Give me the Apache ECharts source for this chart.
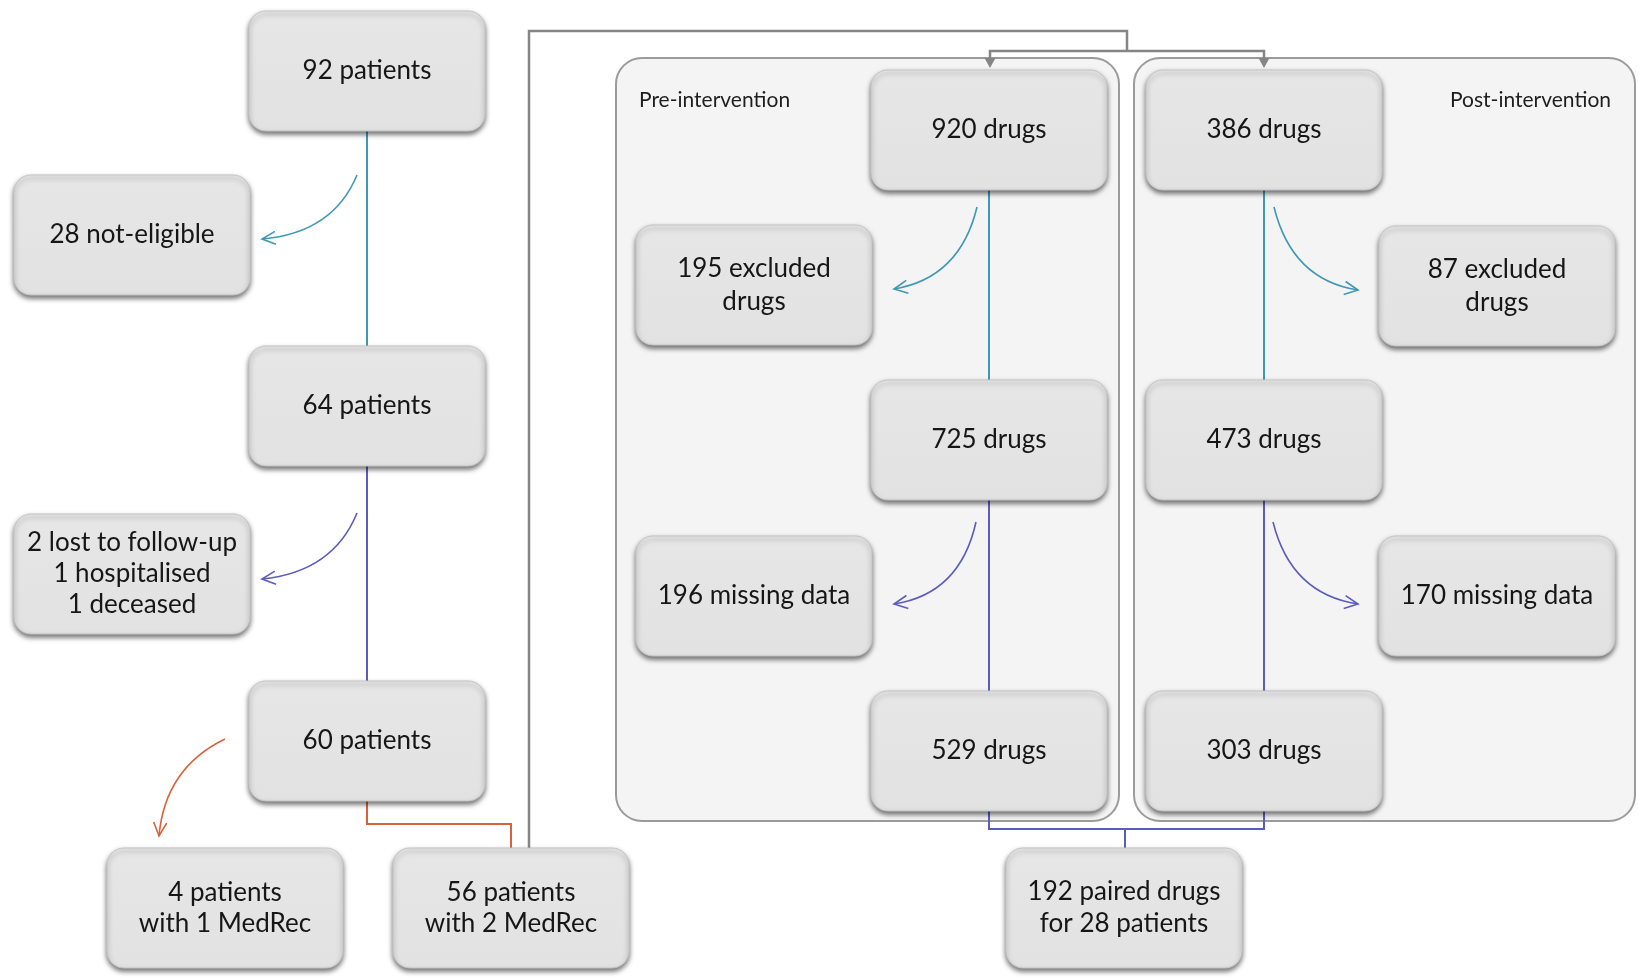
<!DOCTYPE html>
<html>
<head>
<meta charset="utf-8">
<script src="https://cdn.jsdelivr.net/npm/echarts@6/dist/echarts.min.js"></script>
<style>
  html, body { margin: 0; padding: 0; background: #ffffff; }
  #chart { width: 1638px; height: 980px; }
</style>
</head>
<body>
<div id="chart"></div>
<script>
// values
const patientSteps = [92, 64, 60];
const notEligible = 28;
const lostFollowUp = 2, hospitalised = 1, deceased = 1;
const medrecOne = 4, medrecTwo = 56;
const preDrugs = [920, 725, 529];
const preExcluded = 195, preMissing = 196;
const postDrugs = [386, 473, 303];
const postExcluded = 87, postMissing = 170;
const pairedDrugs = 192, pairedPatients = 28;
const phaseNames = ['Pre-intervention', 'Post-intervention'];

// box labels
const nodeLabels = [
  patientSteps[0] + ' patients',
  notEligible + ' not-eligible',
  patientSteps[1] + ' patients',
  lostFollowUp + ' lost to follow-up\n' + hospitalised + ' hospitalised\n' + deceased + ' deceased',
  patientSteps[2] + ' patients',
  medrecOne + ' patients\nwith 1 MedRec',
  medrecTwo + ' patients\nwith 2 MedRec',
  preDrugs[0] + ' drugs',
  preExcluded + ' excluded\ndrugs',
  preDrugs[1] + ' drugs',
  preMissing + ' missing data',
  preDrugs[2] + ' drugs',
  postDrugs[0] + ' drugs',
  postExcluded + ' excluded\ndrugs',
  postDrugs[1] + ' drugs',
  postMissing + ' missing data',
  postDrugs[2] + ' drugs',
  pairedDrugs + ' paired drugs\nfor ' + pairedPatients + ' patients'
];
// three-line box uses tighter spacing
const nodeLineHeights = [31, 31, 31, 31, 31, 31, 31, 31, 33, 31, 31, 31, 31, 33, 31, 31, 31, 32];

// layout (diagram units = pixels of the 1638x980 canvas)
const nodeCenters = [
  [367, 71], [132, 235], [367, 406], [132, 574], [367, 741],
  [225, 908], [511, 908],
  [989, 130], [754, 285], [989, 440], [754, 596], [989, 751],
  [1264, 130], [1497, 286], [1264, 440], [1497, 596], [1264, 751],
  [1124, 908]
];
const BOX_W = 236, BOX_H = 120;
const panels = [[616, 58, 1119, 821], [1134, 58, 1635, 821]];

const TEAL = '#3f98b6', PURPLE = '#5c5cc0', ORANGE = '#d9623b', GREY = '#858585';

const straightLinks = [
  { coords: [[367, 131], [367, 346]], color: TEAL },
  { coords: [[367, 466], [367, 681]], color: PURPLE },
  { coords: [[367, 801], [367, 824], [511, 824], [511, 848]], color: ORANGE },
  { coords: [[989, 190], [989, 380]], color: TEAL },
  { coords: [[989, 500], [989, 691]], color: PURPLE },
  { coords: [[1264, 190], [1264, 380]], color: TEAL },
  { coords: [[1264, 500], [1264, 691]], color: PURPLE },
  { coords: [[989, 811], [989, 829], [1264, 829], [1264, 811]], color: PURPLE },
  { coords: [[1125, 829], [1125, 848]], color: PURPLE },
  { coords: [[529, 848], [529, 31], [1127, 31], [1127, 51]], color: GREY, width: 2.5 },
  { coords: [[990, 60], [990, 51], [1264, 51], [1264, 60]], color: GREY, width: 2.5 }
];
// grey arrow tips into the two first drug boxes
const arrowTips = [[990, 68], [1264, 68]];
// curved exclusion arrows: start, control, tip
const curves = [
  { p: [[357, 175], [333, 233], [262, 239]], color: TEAL },
  { p: [[357, 513], [333, 572], [262, 579]], color: PURPLE },
  { p: [[225, 739], [165, 768], [159, 836]], color: ORANGE },
  { p: [[977, 207], [960, 278], [894, 289]], color: TEAL },
  { p: [[1274, 207], [1292, 280], [1358, 290]], color: TEAL },
  { p: [[976, 522], [960, 594], [894, 604]], color: PURPLE },
  { p: [[1273, 522], [1291, 594], [1358, 604]], color: PURPLE }
];

const FONT = 'Lato, "Open Sans", sans-serif';

function renderPanel(params, api) {
  const b = panels[params.dataIndex];
  const a = api.coord([b[0], b[1]]);
  const z = api.coord([b[2], b[3]]);
  const left = params.dataIndex === 0;
  return {
    type: 'group',
    children: [{
      type: 'rect',
      shape: { x: a[0], y: a[1], width: z[0] - a[0], height: z[1] - a[1], r: 26 },
      style: { fill: '#f4f4f4', stroke: '#9b9b9b', lineWidth: 2 }
    }, {
      type: 'text',
      x: left ? a[0] + 23 : z[0] - 24,
      y: a[1] + 42,
      style: {
        text: phaseNames[params.dataIndex],
        fill: '#1e1e1e',
        font: '21px ' + FONT,
        align: left ? 'left' : 'right',
        verticalAlign: 'middle'
      }
    }]
  };
}

function renderBox(params, api) {
  const c = api.coord([api.value(0), api.value(1)]);
  const s = api.size([BOX_W, BOX_H]);
  return {
    type: 'group',
    children: [{
      type: 'rect',
      shape: { x: c[0] - s[0] / 2, y: c[1] - s[1] / 2, width: s[0], height: s[1], r: 17 },
      style: {
        fill: new echarts.graphic.LinearGradient(0, 0, 0, 1, [
          { offset: 0, color: '#f0f0f0' },
          { offset: 0.08, color: '#e6e6e6' },
          { offset: 1, color: '#e2e2e2' }
        ]),
        stroke: '#c4c4c4',
        lineWidth: 1,
        shadowBlur: 5,
        shadowOffsetY: 3,
        shadowColor: 'rgba(0,0,0,0.55)'
      }
    }, {
      type: 'text',
      x: c[0],
      y: c[1],
      style: {
        text: nodeLabels[params.dataIndex],
        fill: '#161616',
        font: '26px ' + FONT,
        lineHeight: nodeLineHeights[params.dataIndex],
        align: 'center',
        verticalAlign: 'middle'
      }
    }]
  };
}

function renderTip(params, api) {
  const t = api.coord([api.value(0), api.value(1)]);
  return {
    type: 'polygon',
    shape: { points: [[t[0] - 5.5, t[1] - 10], [t[0] + 5.5, t[1] - 10], [t[0], t[1]]] },
    style: { fill: GREY }
  };
}

function renderCurve(params, api) {
  const cv = curves[params.dataIndex];
  const p0 = api.coord(cv.p[0]), cp = api.coord(cv.p[1]), p2 = api.coord(cv.p[2]);
  const dx = p2[0] - cp[0], dy = p2[1] - cp[1];
  const ang = Math.atan2(dy, dx);
  const len = 15, spread = 0.45;
  const w1 = [p2[0] - len * Math.cos(ang - spread), p2[1] - len * Math.sin(ang - spread)];
  const w2 = [p2[0] - len * Math.cos(ang + spread), p2[1] - len * Math.sin(ang + spread)];
  const st = { stroke: cv.color, lineWidth: 1.6, fill: null };
  return {
    type: 'group',
    children: [{
      type: 'bezierCurve',
      shape: { x1: p0[0], y1: p0[1], x2: p2[0], y2: p2[1], cpx1: cp[0], cpy1: cp[1] },
      style: st
    }, {
      type: 'polyline',
      shape: { points: [w1, p2, w2] },
      style: st
    }]
  };
}

const chart = echarts.init(document.getElementById('chart'));
chart.setOption({
  backgroundColor: '#ffffff',
  animation: false,
  grid: { left: 0, right: 0, top: 0, bottom: 0 },
  xAxis: { type: 'value', min: 0, max: 1638, show: false },
  yAxis: { type: 'value', min: 0, max: 980, inverse: true, show: false },
  series: [
    {
      type: 'custom',
      clip: false,
      z: 1,
      renderItem: renderPanel,
      data: panels.map(function (b) { return [b[0], b[1]]; })
    },
    {
      type: 'lines',
      coordinateSystem: 'cartesian2d',
      polyline: true,
      z: 2,
      symbol: 'none',
      data: straightLinks.map(function (l) {
        return { coords: l.coords, lineStyle: { color: l.color, width: l.width || 2, opacity: 1 } };
      })
    },
    {
      type: 'custom',
      clip: false,
      z: 5,
      renderItem: renderTip,
      data: arrowTips
    },
    {
      type: 'custom',
      clip: false,
      z: 3,
      renderItem: renderCurve,
      data: curves.map(function (c) { return c.p[0]; })
    },
    {
      type: 'custom',
      clip: false,
      z: 4,
      renderItem: renderBox,
      data: nodeCenters
    }
  ]
});
</script>
</body>
</html>
